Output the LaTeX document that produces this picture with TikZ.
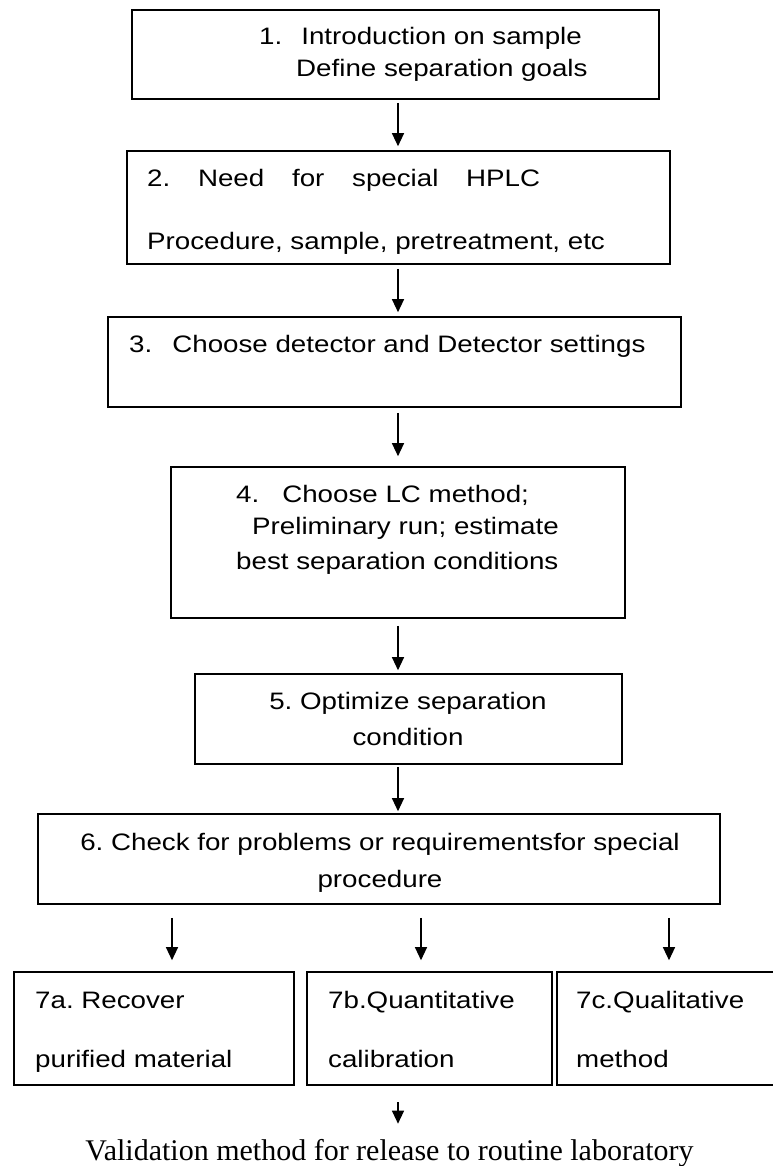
\documentclass[tikz,border=0pt]{standalone}
\usepackage{fontspec}
\setmainfont{Liberation Sans}[FakeStretch=1.165]
\newfontfamily\valfont{Liberation Serif}
\usetikzlibrary{arrows.meta}
\frenchspacing

\tikzset{
  box/.style={draw,line width=1.6pt,inner sep=0pt},
  txt/.style={inner sep=0pt,anchor=base west,font=\fontsize{23.8pt}{28pt}\selectfont},
  ctxt/.style={txt,anchor=base},
  arr/.style={-{Triangle[length=13pt,width=12pt]},line width=1.2pt}
}

\begin{document}
\begin{tikzpicture}[x=1pt,y=-1pt]
  \useasboundingbox (0,0) rectangle (772,1166);
  % boxes
  \node[box,minimum width=527pt,minimum height=89pt] (b1) at (395.5,54.5) {};
  \node[box,minimum width=543pt,minimum height=113pt] (b2) at (398.5,207.5) {};
  \node[box,minimum width=573pt,minimum height=90pt] (b3) at (394.5,362) {};
  \node[box,minimum width=454pt,minimum height=151pt] (b4) at (398,542.5) {};
  \node[box,minimum width=427pt,minimum height=90pt] (b5) at (408.5,719) {};
  \node[box,minimum width=682pt,minimum height=90pt] (b6) at (379,859) {};
  \node[box,minimum width=280pt,minimum height=113pt] (b7a) at (154,1028.5) {};
  \node[box,minimum width=245pt,minimum height=113pt] (b7b) at (429.5,1028.5) {};
  \node[box,minimum width=217pt,minimum height=113pt] (b7c) at (665.5,1028.5) {};
  % texts
  \node[txt] (l1a) at (259,45) {1.\hspace{19pt}Introduction on sample};
  \node[txt] (l1b) at (296,77) {Define separation goals};
  \node[txt] (l2a) at (147,187) {\makebox[393pt][s]{2. Need for special HPLC}};
  \node[txt] (l2b) at (147,250) {Procedure, sample, pretreatment, etc};
  \node[txt] (l3a) at (129,352) {3.\hspace{20pt}Choose detector and Detector settings};
  \node[txt] (l4a) at (236,502) {4.\hspace{23pt}Choose LC method;};
  \node[txt] (l4b) at (252,534) {Preliminary run; estimate};
  \node[txt] (l4c) at (236,569) {best separation conditions};
  \node[ctxt] (l5a) at (408,709) {5. Optimize separation};
  \node[ctxt] (l5b) at (408,745) {condition};
  \node[ctxt] (l6a) at (380,850) {6. Check for problems or requirementsfor special};
  \node[ctxt] (l6b) at (380,887) {procedure};
  \node[txt] (l7a) at (35,1008) {7a. Recover};
  \node[txt] (l7b) at (35,1067) {purified material};
  \node[txt] (l7c) at (328,1008) {7b.Quantitative};
  \node[txt] (l7d) at (328,1067) {calibration};
  \node[txt] (l7e) at (576,1008) {7c.Qualitative};
  \node[txt] (l7f) at (576,1067) {method};
  \node[inner sep=0pt,anchor=base,font=\valfont\fontsize{30pt}{34pt}\selectfont] (val) at (389.5,1160)
    {Validation method for release to routine laboratory};
  % arrows
  \coordinate (ax) at (398,0);
  \draw[arr,shorten <=3pt,shorten >=4pt] (b1.south -| ax) -- (b2.north -| ax);
  \draw[arr,shorten <=4pt,shorten >=4pt] (b2.south -| ax) -- (b3.north -| ax);
  \draw[arr,shorten <=5pt,shorten >=10pt] (b3.south -| ax) -- (b4.north -| ax);
  \draw[arr,shorten <=7pt,shorten >=3pt] (b4.south -| ax) -- (b5.north -| ax);
  \draw[arr,shorten <=2pt,shorten >=2pt] (b5.south -| ax) -- (b6.north -| ax);
  \draw[arr,shorten <=13pt,shorten >=11pt] (b6.south -| 172,0) -- (b7a.north -| 172,0);
  \draw[arr,shorten <=13pt,shorten >=11pt] (b6.south -| 421,0) -- (b7b.north -| 421,0);
  \draw[arr,shorten <=13pt,shorten >=11pt] (b6.south -| 669,0) -- (b7c.north -| 669,0);
  \coordinate (v0) at (398,1102);
  \draw[arr,shorten >=15pt] (v0) -- (v0 |- val.north);
\end{tikzpicture}
\end{document}
